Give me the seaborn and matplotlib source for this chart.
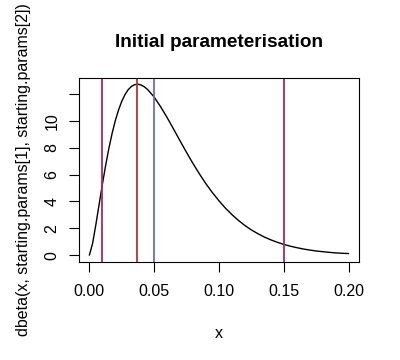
import numpy as np
import pandas as pd
import seaborn as sns
import matplotlib
matplotlib.use("Agg")
import matplotlib.pyplot as plt

# curve values (density of the starting beta)
x_vals = [0.0000, 0.0025, 0.0050, 0.0075, 0.0100, 0.0125, 0.0150, 0.0175,
          0.0200, 0.0225, 0.0250, 0.0275, 0.0300, 0.0325, 0.0350, 0.0375,
          0.0400, 0.0425, 0.0450,
          0.050, 0.055, 0.060, 0.065, 0.070, 0.075, 0.080, 0.085, 0.090, 0.095,
          0.100, 0.105, 0.110, 0.115, 0.120, 0.125, 0.130, 0.135, 0.140, 0.145,
          0.150, 0.155, 0.160, 0.165, 0.170, 0.175, 0.180, 0.185, 0.190, 0.195,
          0.200]
density = [0.00, 0.88, 2.27, 3.77, 5.26, 6.66, 7.94, 9.06,
           10.02, 10.82, 11.47, 11.97, 12.34, 12.58, 12.71, 12.74,
           12.68, 12.54, 12.34,
           11.78, 11.06, 10.25, 9.39, 8.51, 7.65, 6.82, 6.04, 5.31, 4.65,
           4.05, 3.50, 3.02, 2.59, 2.21, 1.88, 1.60, 1.35, 1.14, 0.96,
           0.80, 0.67, 0.56, 0.46, 0.38, 0.31, 0.26, 0.21, 0.17, 0.14,
           0.12]

# vertical reference lines
vlines = [0.01, 0.037, 0.05, 0.15]
vline_colors = ["#A52A5E", "#B83232", "#6A6AD2", "#A52A5E"]

x_ticks = [0.00, 0.05, 0.10, 0.15, 0.20]
x_ticklabels = ["0.00", "0.05", "0.10", "0.15", "0.20"]
y_ticks = [0, 2, 4, 6, 8, 10, 12]
y_ticklabels = ["0", "2", "4", "6", "8", "10", ""]

sns.set_style("ticks")
plt.rcParams["font.family"] = ["Liberation Sans", "DejaVu Sans"]
plt.rcParams["text.color"] = "black"
plt.rcParams["axes.labelcolor"] = "black"
plt.rcParams["xtick.color"] = "black"
plt.rcParams["ytick.color"] = "black"

fig = plt.figure(figsize=(4.0, 3.6), dpi=100)
ax = fig.add_axes([0.1975, 0.2722, 0.70, 0.511])

df = pd.DataFrame({"x": x_vals, "y": density})
sns.lineplot(data=df, x="x", y="y", ax=ax, color="black", linewidth=1.0)

for v, c in zip(vlines, vline_colors):
    ax.axvline(v, color=c, linewidth=1.3)

ax.set_xlim(-0.008, 0.208)
ax.set_ylim(-0.51, 13.2)

ax.set_xticks(x_ticks)
ax.set_xticklabels(x_ticklabels, fontsize=11.5, color="black")
ax.set_yticks(y_ticks)
ax.set_yticklabels(y_ticklabels, fontsize=11.5, rotation=90, va="center", color="black")

ax.tick_params(axis="both", direction="out", length=7, width=0.8, color="black", pad=7)
ax.tick_params(axis="x", pad=9)

for s in ax.spines.values():
    s.set_visible(True)
    s.set_linewidth(0.8)
    s.set_color("black")

ax.set_xlabel("x", fontsize=11.5, labelpad=19, color="black")
ax.set_ylabel("dbeta(x, starting.params[1], starting.params[2])", fontsize=11.5,
              labelpad=10, color="black")
ax.set_title("Initial parameterisation", fontsize=13.7, fontweight="bold",
             pad=22, color="black")

fig.savefig("out.png", dpi=100)
plt.close()
